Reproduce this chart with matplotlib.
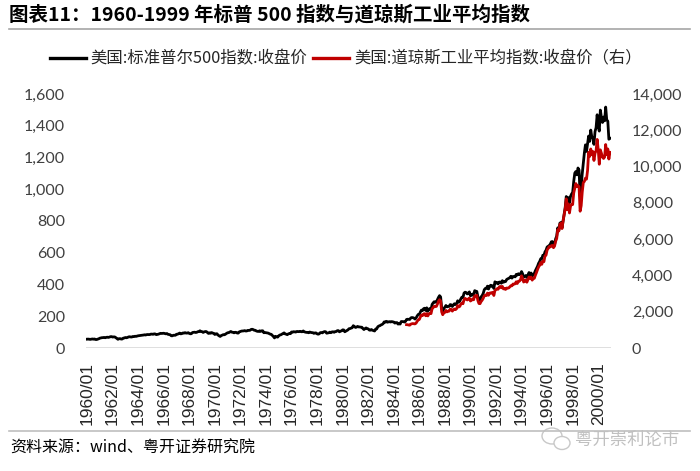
import numpy as np
import pandas as pd
import matplotlib
matplotlib.use("Agg")
import matplotlib.pyplot as plt
from matplotlib.lines import Line2D
from matplotlib.patches import Ellipse
from matplotlib.ticker import FuncFormatter

plt.rcParams['font.family'] = ['Noto Sans CJK SC', 'DejaVu Sans']

# ---------------------------
# DATA (monthly close)
# ---------------------------
months = pd.date_range("1960-01-01", "2000-12-01", freq="MS")

spx_close = [
    55.6, 56.1, 55.3, 54.4, 55.8, 56.9, 55.5, 56.9, 53.5, 53.4, 55.5, 58.1,
    61.8, 63.4, 65.1, 65.3, 66.6, 64.6, 66.8, 68.1, 66.7, 68.6, 71.3, 71.6,
    68.8, 70.0, 69.6, 65.2, 59.6, 54.8, 58.2, 59.1, 56.3, 56.5, 62.3, 63.1,
    66.2, 64.3, 66.6, 69.8, 70.8, 69.4, 69.1, 72.5, 71.7, 74.0, 73.2, 75.0,
    77.0, 77.8, 79.0, 79.5, 80.4, 81.7, 83.2, 81.8, 84.2, 84.9, 84.4, 84.8,
    87.6, 87.4, 86.2, 89.1, 88.4, 84.1, 85.3, 87.2, 90.0, 92.4, 91.6, 92.4,
    92.9, 91.2, 89.2, 91.1, 86.1, 84.7, 83.6, 77.1, 76.6, 80.2, 80.5, 80.3,
    86.6, 86.8, 90.2, 94.0, 89.1, 90.6, 94.8, 93.6, 96.7, 93.9, 94.0, 96.5,
    92.2, 89.4, 90.2, 97.6, 98.7, 99.6, 97.7, 98.9, 102.7, 103.4, 108.4, 103.9,
    103.0, 98.1, 101.5, 103.7, 103.5, 97.7, 91.8, 95.5, 93.1, 97.2, 93.8, 92.1,
    85.0, 89.5, 89.6, 81.5, 76.6, 72.7, 78.1, 81.5, 84.2, 83.3, 87.2, 92.2,
    95.9, 96.8, 100.3, 104.0, 99.6, 98.7, 95.6, 99.0, 98.3, 94.2, 94.0, 102.1,
    103.9, 106.6, 107.2, 107.7, 109.5, 107.1, 107.4, 111.1, 110.6, 111.6, 116.7, 118.1,
    116.0, 111.7, 111.5, 107.0, 105.0, 104.3, 108.2, 104.3, 108.4, 108.3, 96.0, 97.6,
    96.6, 96.2, 94.0, 90.3, 87.3, 86.0, 79.3, 72.2, 63.5, 73.9, 70.0, 68.6,
    77.0, 81.6, 83.4, 87.3, 91.2, 95.2, 88.8, 86.9, 83.9, 89.0, 91.2, 90.2,
    100.9, 99.7, 102.8, 101.6, 100.2, 104.3, 103.4, 102.9, 105.2, 102.9, 102.1, 107.5,
    102.0, 99.8, 98.4, 98.4, 96.1, 100.5, 98.9, 96.8, 96.5, 92.3, 94.8, 95.1,
    89.3, 87.0, 89.2, 96.8, 97.2, 95.5, 100.7, 103.3, 102.5, 93.2, 94.7, 96.1,
    99.9, 96.3, 101.6, 101.8, 99.1, 102.9, 103.8, 109.3, 109.3, 101.8, 106.2, 107.9,
    114.2, 113.7, 102.1, 106.3, 111.2, 114.2, 121.7, 122.4, 125.5, 127.5, 140.5, 135.8,
    129.6, 131.3, 136.0, 132.8, 132.6, 131.2, 130.9, 122.8, 116.2, 121.9, 126.4, 122.6,
    120.4, 113.1, 112.0, 116.4, 111.9, 109.6, 107.1, 119.5, 120.4, 133.7, 138.5, 140.6,
    145.3, 148.1, 153.0, 164.4, 162.4, 168.1, 162.6, 164.4, 166.1, 163.6, 166.4, 164.9,
    163.4, 157.1, 159.2, 160.1, 150.6, 153.2, 150.7, 166.7, 166.1, 166.1, 163.6, 167.2,
    179.6, 181.2, 180.7, 179.8, 189.6, 191.9, 190.9, 188.6, 182.1, 189.8, 202.2, 211.3,
    211.8, 226.9, 238.9, 235.5, 247.4, 250.8, 236.1, 252.9, 231.3, 244.0, 249.2, 242.2,
    274.1, 284.2, 291.7, 288.4, 290.1, 304.0, 318.7, 329.8, 321.8, 251.8, 230.3, 247.1,
    257.1, 267.8, 258.9, 261.3, 262.2, 273.5, 272.0, 261.5, 271.9, 279.0, 273.7, 277.7,
    297.5, 288.9, 294.9, 309.6, 320.5, 318.0, 346.1, 351.5, 349.2, 340.4, 346.0, 353.4,
    329.1, 331.9, 339.9, 330.8, 361.2, 358.0, 356.2, 322.6, 306.1, 304.0, 322.2, 330.2,
    343.9, 367.1, 375.2, 375.4, 389.8, 371.2, 387.8, 395.4, 387.9, 392.5, 375.2, 417.1,
    408.8, 412.7, 403.7, 415.0, 415.4, 408.1, 424.2, 414.0, 417.8, 418.7, 431.4, 435.7,
    438.8, 443.4, 451.7, 440.2, 450.2, 450.5, 448.1, 463.6, 458.9, 467.8, 461.8, 466.5,
    481.6, 467.1, 445.8, 450.9, 456.5, 444.3, 458.3, 475.5, 462.7, 472.4, 453.7, 459.3,
    470.4, 487.4, 500.7, 514.7, 533.4, 544.8, 562.1, 561.9, 584.4, 581.5, 605.4, 615.9,
    636.0, 640.4, 645.5, 654.2, 669.1, 670.6, 640.0, 652.0, 687.3, 705.3, 757.0, 740.7,
    786.2, 790.8, 757.1, 801.3, 848.3, 885.1, 954.3, 899.5, 947.3, 914.6, 955.4, 970.4,
    980.3, 1049.3, 1101.8, 1111.8, 1090.8, 1133.8, 1120.7, 957.3, 1017.0, 1098.7, 1163.6, 1229.2,
    1279.6, 1238.3, 1286.4, 1335.2, 1301.8, 1372.7, 1328.7, 1320.4, 1282.7, 1362.9, 1388.9, 1469.3,
    1394.5, 1366.4, 1498.6, 1452.4, 1420.6, 1454.6, 1430.8, 1517.7, 1436.5, 1429.4, 1315.0, 1320.3,
]

# Dow Jones series starts 1985/01
dji_start = "1985-01-01"
dji_close = [
    1286.8, 1284.0, 1266.8, 1258.1, 1315.4, 1335.5, 1347.5, 1334.0, 1328.6, 1374.3, 1472.1, 1546.7,
    1571.0, 1709.1, 1818.6, 1784.0, 1876.7, 1892.7, 1775.3, 1898.3, 1767.6, 1877.8, 1914.2, 1896.0,
    2158.0, 2224.0, 2304.7, 2286.4, 2291.6, 2418.5, 2572.1, 2663.0, 2596.3, 1993.5, 1833.6, 1938.8,
    1958.2, 2071.6, 1988.1, 2032.3, 2031.1, 2141.7, 2128.7, 2031.7, 2112.9, 2148.7, 2114.5, 2168.6,
    2342.3, 2258.4, 2293.6, 2418.8, 2480.2, 2440.1, 2660.7, 2737.3, 2692.8, 2645.1, 2706.3, 2753.2,
    2590.5, 2627.3, 2707.2, 2656.8, 2876.7, 2880.7, 2905.2, 2614.4, 2452.5, 2442.3, 2559.7, 2633.7,
    2736.4, 2882.2, 2913.9, 2887.9, 3027.5, 2906.8, 3024.8, 3043.6, 3016.8, 3069.1, 2894.7, 3168.8,
    3223.4, 3267.7, 3235.5, 3359.1, 3396.9, 3318.5, 3393.8, 3257.4, 3271.7, 3226.3, 3305.2, 3301.1,
    3310.0, 3370.8, 3435.1, 3427.6, 3527.4, 3516.1, 3539.5, 3651.3, 3555.1, 3680.6, 3684.0, 3754.1,
    3978.4, 3832.0, 3636.0, 3681.7, 3758.4, 3625.0, 3764.5, 3913.4, 3843.2, 3908.1, 3739.2, 3834.4,
    3843.9, 4011.1, 4157.7, 4321.3, 4465.1, 4556.1, 4708.5, 4610.6, 4789.1, 4755.5, 5074.5, 5117.1,
    5395.3, 5485.6, 5587.1, 5569.1, 5643.2, 5654.6, 5528.9, 5616.2, 5882.2, 6029.4, 6521.7, 6448.3,
    6813.1, 6877.7, 6583.5, 7009.0, 7331.0, 7672.8, 8222.6, 7622.4, 7945.3, 7442.1, 7823.1, 7908.3,
    7906.5, 8545.7, 8799.8, 9063.4, 8900.0, 8952.0, 8883.3, 7539.1, 7842.6, 8592.1, 9116.6, 9181.4,
    9358.8, 9306.6, 9786.2, 10789.0, 10559.7, 10970.8, 10655.2, 10829.3, 10337.0, 10729.9, 10877.8, 11497.1,
    10940.5, 10128.3, 10921.9, 10733.9, 10522.3, 10447.9, 10522.0, 11215.1, 10650.9, 10971.1, 10414.5, 10786.9,
]

tick_labels = ["1960/01", "1962/01", "1964/01", "1966/01", "1968/01", "1970/01",
               "1972/01", "1974/01", "1976/01", "1978/01", "1980/01", "1982/01",
               "1984/01", "1986/01", "1988/01", "1990/01", "1992/01", "1994/01",
               "1996/01", "1998/01", "2000/01"]

left_ticks = [0, 200, 400, 600, 800, 1000, 1200, 1400, 1600]
right_ticks = [0, 2000, 4000, 6000, 8000, 10000, 12000, 14000]

title = "图表11：1960-1999 年标普 500 指数与道琼斯工业平均指数"
label_spx = "美国:标准普尔500指数:收盘价"
label_dji = "美国:道琼斯工业平均指数:收盘价（右）"
source = "资料来源：wind、粤开证券研究院"

# ---------------------------
# PLOT
# ---------------------------
month_labels = [d.strftime("%Y/%m") for d in months]
x = np.arange(len(month_labels))
x_dji = x[month_labels.index(pd.Timestamp(dji_start).strftime("%Y/%m")):]

fig = plt.figure(figsize=(7, 4.71), dpi=100)
ax = fig.add_axes([86 / 700, 1 - 348 / 471, 525 / 700, 254 / 471])
ax2 = ax.twinx()

ax.plot(x, spx_close, color="black", lw=2.0, zorder=2)
ax2.plot(x_dji, dji_close, color="#c00000", lw=2.0, zorder=3)

ax.set_xlim(-1, 492)
ax.set_ylim(0, 1600)
ax2.set_ylim(0, 14000)

tick_pos = [month_labels.index(t) for t in tick_labels]
ax.set_xticks(tick_pos)
ax.set_xticklabels(tick_labels, rotation=90, fontsize=12.5,
                   family=["Liberation Sans", "DejaVu Sans"], color="#262626")
ax.tick_params(axis="x", length=0, pad=10)

comma = FuncFormatter(lambda v, p: f"{int(v):,}")
ax.set_yticks(left_ticks)
ax.yaxis.set_major_formatter(comma)
ax2.set_yticks(right_ticks)
ax2.yaxis.set_major_formatter(comma)
for a in (ax, ax2):
    a.tick_params(axis="y", length=0, pad=15, labelsize=11.5, labelcolor="#404040")
    for lab in a.get_yticklabels():
        lab.set_family(["Lato", "DejaVu Sans"])
    for s in a.spines.values():
        s.set_visible(False)
ax.axhline(0, color="#d9d9d9", lw=1.2, zorder=1)

# legend
handles = [Line2D([], [], color="black", lw=2.4), Line2D([], [], color="#c00000", lw=2.4)]
fig.legend(handles, [label_spx, label_dji], loc="center", bbox_to_anchor=(0.494, 1 - 59 / 471),
           ncol=2, frameon=False, fontsize=11.8, handlelength=2.2, handletextpad=0.3,
           columnspacing=0.35, labelcolor="#262626")

# title and rules
fig.text(9 / 700, 1 - 15 / 471, title, fontsize=14, fontweight="bold", va="center", ha="left")
fig.add_artist(Line2D([9 / 700, 690 / 700], [1 - 29 / 471] * 2, color="#a6a6a6", lw=1.2))
fig.add_artist(Line2D([9 / 700, 690 / 700], [1 - 431 / 471] * 2, color="#bfbfbf", lw=1.2))
fig.text(10 / 700, 1 - 448 / 471, source, fontsize=11.5, style="italic", va="center", ha="left")

# watermark
fig.add_artist(Ellipse((552 / 700, 1 - 436 / 471), 20 / 700, 16 / 471,
                       fill=False, ec="#c8c8c8", lw=1.0))
fig.add_artist(Ellipse((562 / 700, 1 - 443 / 471), 16 / 700, 13 / 471,
                       fc="white", ec="#c8c8c8", lw=1.0))
fig.text(575 / 700, 1 - 440 / 471, "粤开崇利论市", fontsize=12.5, color="#c0c0c0",
         va="center", ha="left")

fig.savefig("out.png", dpi=100)
